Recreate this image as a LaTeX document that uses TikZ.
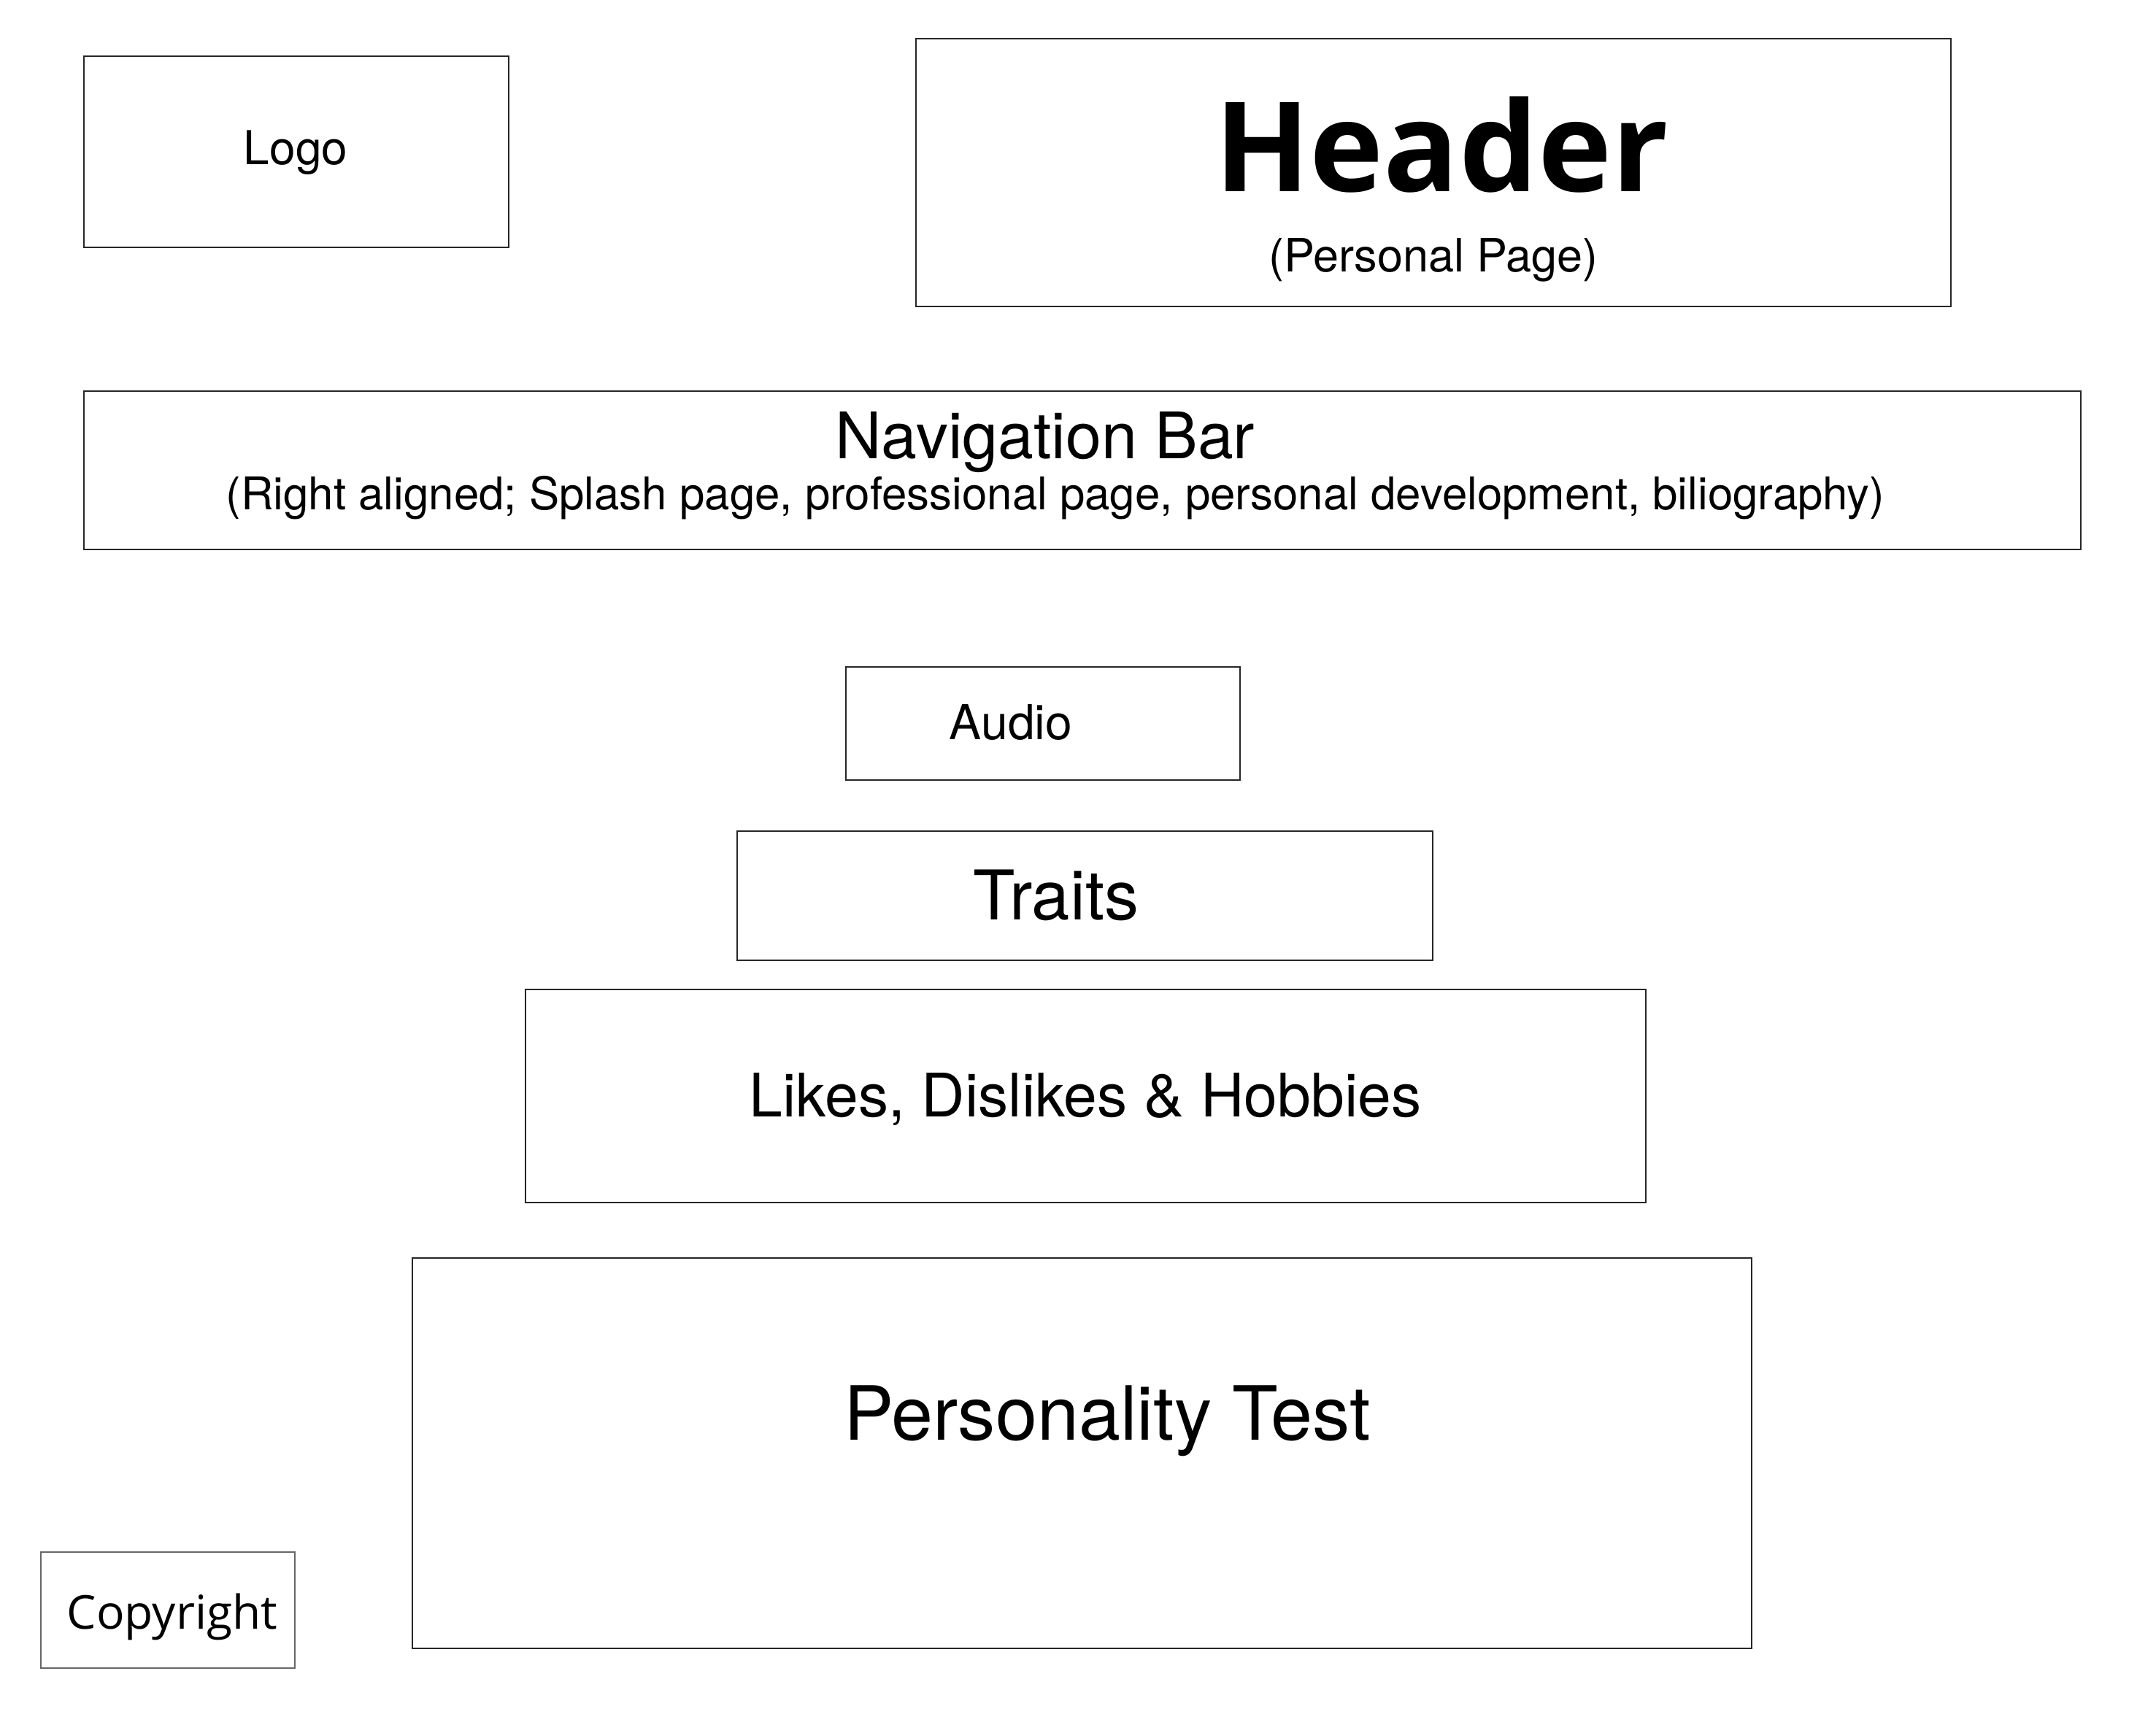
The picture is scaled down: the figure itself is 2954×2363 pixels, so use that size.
\documentclass[tikz,border=0pt]{standalone}
\usepackage{fontspec}
\setmainfont{TeX Gyre Heros}
\newfontfamily\headfont{Open Sans}
\begin{document}
\begin{tikzpicture}[x=1pt,y=-1pt,
  frame/.style={draw=black!85, line width=2.5pt, inner sep=0pt, outer sep=0pt, fill=none},
  thinframe/.style={draw=black!60, line width=1.6pt, inner sep=0pt, outer sep=0pt},
  lbl/.style={anchor=base, inner sep=0pt, text=black},
  fs/.style={font=\fontsize{#1}{#1}\selectfont}]
\useasboundingbox[fill=white] (0,0) rectangle (2954,2363);

% page sections
\node[frame, minimum width=582pt, minimum height=262pt] (logo) at (406,208) {};
\node[frame, minimum width=1418pt, minimum height=367pt] (header) at (1964,236.5) {};
\node[frame, minimum width=2736pt, minimum height=217pt] (nav) at (1483,644.5) {};
\node[frame, minimum width=540pt, minimum height=155pt] (audio) at (1429,991.5) {};
\node[frame, minimum width=953pt, minimum height=177pt] (traits) at (1486.5,1227.5) {};
\node[frame, minimum width=1535pt, minimum height=292pt] (likes) at (1487.5,1502) {};
\node[frame, minimum width=1835pt, minimum height=535pt] (test) at (1482.5,1991.5) {};
\node[thinframe, minimum width=348pt, minimum height=159pt] (copy) at (230,2206.5) {};

% labels
\node[lbl, fs=64] (logotext) at (405,225) {Logo};
\node[lbl, font=\headfont\bfseries\fontsize{171}{171}\selectfont] (headtext) at (1975,262) {Header};
\node[lbl, fs=63] (headsub) at (1964,372) {(Personal Page)};
\node[lbl, fs=88] (navtext) at (1432,628) {Navigation Bar};
\node[lbl, fs=61.8] (navsub) at (1446,698) {(Right aligned; Splash page, professional page, personal development, biliography)};
\node[lbl, fs=66] (audiotext) at (1385,1013) {Audio};
\node[lbl, fs=94] (traitstext) at (1447,1260) {Traits};
\node[lbl, fs=82.3] (likestext) at (1487,1530) {Likes, Dislikes \& Hobbies};
\node[lbl, fs=102.5] (testtext) at (1517,1973) {Personality Test};
\node[lbl, font=\headfont\fontsize{64}{64}\selectfont] (copytext) at (236,2232) {Copyright};
\end{tikzpicture}
\end{document}
